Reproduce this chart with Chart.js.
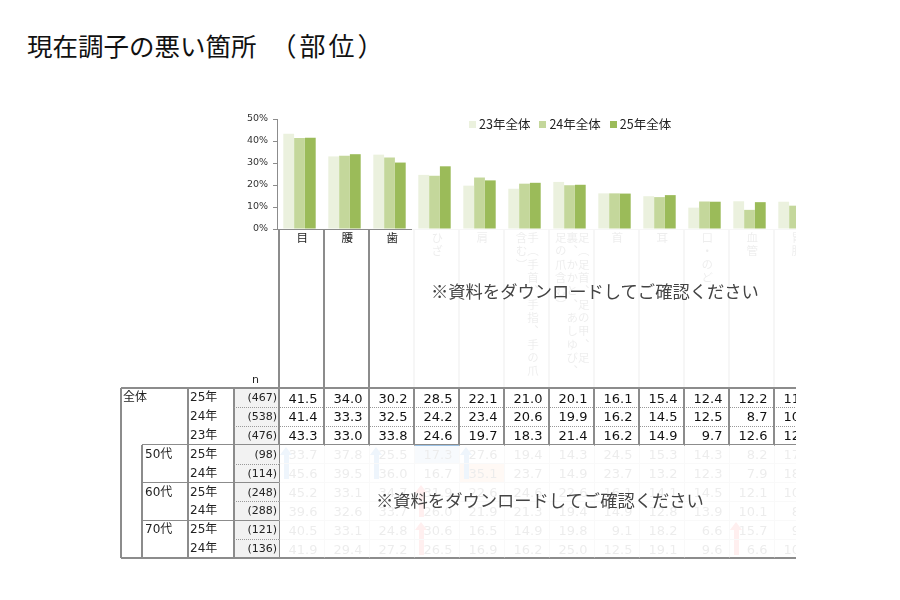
<!DOCTYPE html>
<html lang="ja">
<head>
<meta charset="UTF-8">
<title>現在調子の悪い箇所 （部位）</title>
<script src="https://cdn.jsdelivr.net/npm/chart.js"></script>
<style>
    body {
        margin: 0;
        background: #fff;
        font-family: "Noto Sans CJK JP", sans-serif;
    }
    #page {
        position: relative;
        width: 900px;
        height: 600px;
        overflow: hidden;
    }
    /* the source picture is cut off at the right edge */
    #clip {
        position: absolute;
        left: 0;
        top: 0;
        width: 796px;
        height: 600px;
        overflow: hidden;
    }
    h1 {
        position: absolute;
        left: 27px;
        top: 31px;
        margin: 0;
        font-size: 25.5px;
        font-weight: normal;
        line-height: 28px;
        color: #111;
        white-space: nowrap;
    }
    h1 span {
        font-size: 26px;
        letter-spacing: 3px;
        margin-left: 14px;
    }
    #chartBox {
        position: absolute;
        left: 225px;
        top: 105px;
        width: 592px;
        height: 135px;
    }
    #legend {
        position: absolute;
        left: 469px;
        top: 116px;
        display: flex;
        gap: 9px;
        font-size: 12.5px;
        color: #222;
        line-height: 16px;
    }
    #legend span.box {
        display: inline-block;
        width: 7px;
        height: 7px;
        margin-right: 3px;
        vertical-align: 1px;
    }
    .ln { position: absolute; }
    .t {
        position: absolute;
        white-space: nowrap;
        font-family: "DejaVu Sans", "Noto Sans CJK JP", sans-serif;
        font-size: 12px;
        color: #222;
        line-height: 19px;
    }
    .num {
        position: absolute;
        font-family: "DejaVu Sans", sans-serif;
        font-size: 13px;
        color: #111;
        text-align: right;
        line-height: 19px;
        white-space: nowrap;
    }
    .vcell {
        position: absolute;
        top: 232px;
        width: 45px;
        height: 152px;
        display: flex;
        justify-content: center;
    }
    .vcell span {
        writing-mode: vertical-rl;
        height: 150px;
        font-size: 11.5px;
        letter-spacing: 1.8px;
        line-height: 11.5px;
        color: #222;
    }
    .fade {
        position: absolute;
        background: rgba(255, 255, 255, 0.92);
    }
    .note {
        position: absolute;
        font-size: 17.3px;
        line-height: 20px;
        color: #444;
        white-space: nowrap;
    }
</style>
</head>
<body>
<div id="page">
    <h1>現在調子の悪い箇所<span>（部位）</span></h1>
    <div id="clip">
        <div id="chartBox"><canvas id="bodyChart"></canvas></div>
    </div>
    <div id="legend"></div>
</div>

<script>
    // 部位
    const categories = ["目", "腰", "歯", "ひざ", "肩",
        "手（手首、手指、手の爪含む）",
        "足（足首、足の甲、足裏、かかと、あしゆび、足の爪含む）",
        "首", "耳", "口・のど", "血管", "胃腸"];
    const seriesNames = ["23年全体", "24年全体", "25年全体"];
    const seriesColors = ["#EBF1DE", "#C4D79B", "#9BBB59"];

    // 全体 (%)
    const values23 = [43.3, 33.0, 33.8, 24.6, 19.7, 18.3, 21.4, 16.2, 14.9, 9.7, 12.6, 12.4];
    const values24 = [41.4, 33.3, 32.5, 24.2, 23.4, 20.6, 19.9, 16.2, 14.5, 12.5, 8.7, 10.6];
    const values25 = [41.5, 34.0, 30.2, 28.5, 22.1, 21.0, 20.1, 16.1, 15.4, 12.4, 12.2, 11.2];
    const yMax = 50;
    const yStep = 10;

    // 表の行
    const yearLabels = ["25年", "24年", "23年"];
    const totalN = [467, 538, 476];
    const ageGroups = ["50代", "60代", "70代"];
    const ageN = [[98, 114], [248, 288], [121, 136]];
    const age50_25 = [33.7, 37.8, 25.5, 17.3, 27.6, 19.4, 14.3, 24.5, 15.3, 14.3, 8.2, 17.2];
    const age50_24 = [45.6, 39.5, 36.0, 16.7, 35.1, 23.7, 14.9, 23.7, 13.2, 12.3, 7.9, 18.1];
    const age60_25 = [45.2, 33.1, 34.7, 31.9, 22.6, 24.6, 22.6, 16.1, 14.1, 14.5, 12.1, 10.5];
    const age60_24 = [39.6, 32.6, 33.7, 26.0, 21.9, 21.3, 19.4, 14.9, 12.8, 13.9, 10.1, 8.7];
    const age70_25 = [40.5, 33.1, 24.8, 30.6, 16.5, 14.9, 19.8, 9.1, 18.2, 6.6, 15.7, 9.1];
    const age70_24 = [41.9, 29.4, 27.2, 26.5, 16.9, 16.2, 25.0, 12.5, 19.1, 9.6, 6.6, 10.3];
    // 矢印 [部位の番号, 年代の番号, 向き]
    const arrowMarks = [[0, 0, "up"], [2, 0, "up"], [4, 0, "up"],
        [3, 1, "upRed"], [3, 2, "upRed"], [10, 2, "upRed"]];

    const note = "※資料をダウンロードしてご確認ください";

    // ---- グラフ ----
    new Chart(document.getElementById("bodyChart"), {
        type: "bar",
        data: {
            labels: categories,
            datasets: [
                { label: seriesNames[0], data: values23, backgroundColor: seriesColors[0] },
                { label: seriesNames[1], data: values24, backgroundColor: seriesColors[1] },
                { label: seriesNames[2], data: values25, backgroundColor: seriesColors[2] }
            ]
        },
        options: {
            responsive: true,
            maintainAspectRatio: false,
            animation: false,
            datasets: { bar: { barPercentage: 1.0, categoryPercentage: 0.72 } },
            layout: { padding: { top: 14, left: 0, right: 0, bottom: 0 } },
            plugins: {
                legend: { display: false },
                tooltip: { enabled: false }
            },
            scales: {
                x: {
                    ticks: { display: false },
                    grid: { display: false },
                    border: { display: true, color: "#8c8c8c", width: 1 },
                    afterFit: (s) => { s.height = 11; }
                },
                y: {
                    min: 0,
                    max: yMax,
                    ticks: {
                        stepSize: yStep,
                        padding: 5,
                        color: "#333",
                        font: { family: "DejaVu Sans", size: 9.5 },
                        callback: (v) => v + "%"
                    },
                    grid: { drawOnChartArea: false, drawTicks: true, tickLength: 4, color: "#8c8c8c" },
                    border: { display: true, color: "#8c8c8c", width: 1 },
                    afterFit: (s) => { s.width = 52; }
                }
            }
        }
    });

    // 凡例
    const legend = document.getElementById("legend");
    seriesNames.forEach((name, i) => {
        const item = document.createElement("div");
        item.innerHTML = '<span class="box" style="background:' + seriesColors[i] + '"></span>' + name;
        legend.appendChild(item);
    });

    // ---- 表 ----
    const clip = document.getElementById("clip");
    const colX = (k) => 279 + 45 * k;
    const rowY = (r) => 388 + 18.9 * r;
    const lineColor = "#8c8c8c";

    function box(cls, css, text) {
        const d = document.createElement("div");
        d.className = cls;
        Object.assign(d.style, css);
        if (text != null) d.textContent = text;
        clip.appendChild(d);
        return d;
    }
    function hline(x1, x2, y, w, color, dotted) {
        if (dotted) {
            box("ln", { left: x1 + "px", top: y + "px", width: (x2 - x1) + "px", height: "0",
                borderTop: "1px dotted " + color });
        } else {
            box("ln", { left: x1 + "px", top: (y - w / 2) + "px", width: (x2 - x1) + "px",
                height: w + "px", background: color });
        }
    }
    function vline(x, y1, y2, w, color) {
        box("ln", { left: (x - w / 2) + "px", top: y1 + "px", width: w + "px",
            height: (y2 - y1) + "px", background: color });
    }

    // 部位の縦書きラベル
    categories.forEach((c, k) => {
        const cell = box("vcell", { left: colX(k) + "px" });
        const s = document.createElement("span");
        s.textContent = c;
        cell.appendChild(s);
        vline(colX(k), 229, 388, 1.6, lineColor);
    });

    // n 列の背景
    box("ln", { left: "234px", top: rowY(0) + "px", width: "45px", height: (rowY(9) - rowY(0)) + "px", background: "#f2f2f2" });

    // セルの色 (薄く)
    box("ln", { left: colX(3) + "px", top: rowY(3) + "px", width: "45px", height: "18.9px", background: "#9dc3e6" });
    box("ln", { left: colX(4) + "px", top: rowY(4) + "px", width: "45px", height: "18.9px", background: "#f4b183" });

    box("t", { left: "252px", top: "370px", fontSize: "11px" }, "n");

    // 左側の見出し
    box("t", { left: "123px", top: rowY(0) + "px" }, "全体");
    yearLabels.forEach((y, i) => {
        box("t", { left: "190px", top: rowY(i) + "px" }, y);
        box("num", { left: "234px", width: "43px", top: rowY(i) + "px", fontSize: "11px", color: "#222" }, "(" + totalN[i] + ")");
    });
    ageGroups.forEach((g, j) => {
        const r = 3 + j * 2;
        box("t", { left: "145px", top: rowY(r) + "px" }, g);
        box("t", { left: "190px", top: rowY(r) + "px" }, yearLabels[0]);
        box("t", { left: "190px", top: rowY(r + 1) + "px" }, yearLabels[1]);
        ageN[j].forEach((n, m) => {
            box("num", { left: "234px", width: "43px", top: rowY(r + m) + "px", fontSize: "11px", color: "#222" }, "(" + n + ")");
        });
    });

    // 数値
    const rows = [values25, values24, values23, age50_25, age50_24, age60_25, age60_24, age70_25, age70_24];
    rows.forEach((vals, r) => {
        vals.forEach((v, k) => {
            box("num", { left: colX(k) + "px", width: "38.5px", top: (rowY(r) + 0.5) + "px" }, v.toFixed(1));
        });
    });

    // 矢印
    arrowMarks.forEach(([k, g, kind]) => {
        const col = kind === "up" ? "#2f7fd0" : "#ff3a3a";
        const top = rowY(3 + g * 2) + 2;
        const h = 18.9 * 2 - 5;
        box("ln", { left: (colX(k) + 1) + "px", top: top + "px", width: "0", height: "0",
            borderLeft: "6px solid transparent", borderRight: "6px solid transparent",
            borderBottom: "8px solid " + col });
        box("ln", { left: (colX(k) + 4.5) + "px", top: (top + 8) + "px", width: "5px",
            height: (h - 8) + "px", background: col });
    });

    // 罫線
    const right = colX(12) + 2;
    hline(121, right, rowY(0), 1.6, lineColor);
    hline(121, right, rowY(9), 1.6, lineColor);
    hline(142, right, rowY(3), 1.6, lineColor);
    hline(142, 279, rowY(5), 1.6, lineColor);
    hline(142, 279, rowY(7), 1.6, lineColor);
    vline(121, rowY(0), rowY(9), 1.6, lineColor);
    vline(142, rowY(3), rowY(9), 1.6, lineColor);
    vline(188, rowY(0), rowY(9), 1.6, lineColor);
    vline(234, rowY(0), rowY(9), 1.6, lineColor);
    [1, 2, 4, 6, 8].forEach((r) => hline(234, 279, rowY(r), 1, "#999", true));
    [1, 2].forEach((r) => hline(279, right, rowY(r), 1, "#999", true));
    for (let k = 0; k <= 12; k++) {
        vline(colX(k), rowY(0), rowY(3), 1.6, lineColor);
        vline(colX(k), rowY(3), rowY(9), 1, k === 0 ? lineColor : "#b0b0b0");
    }
    [4, 5, 6, 7, 8].forEach((r) => hline(279, right, rowY(r), 1, "#b0b0b0"));

    // 資料で隠されている部分
    box("fade", { left: "412px", top: "228.6px", width: "400px", height: "158px" });
    box("fade", { left: "280px", top: (rowY(3) + 1) + "px", width: "530px", height: (rowY(9) - rowY(3) - 2) + "px" });

    box("note", { left: "431px", top: "281px" }, note);
    box("note", { left: "376px", top: "490px" }, note);
</script>
</body>
</html>
